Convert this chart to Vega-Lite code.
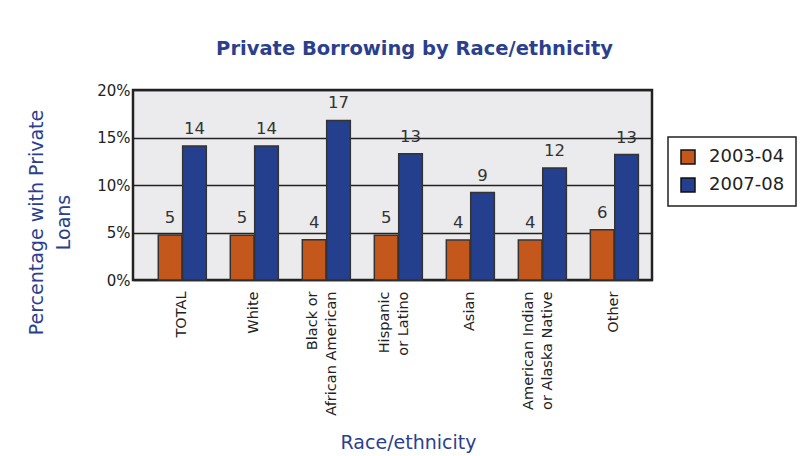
{
  "$schema": "https://vega.github.io/schema/vega-lite/v6.json",
  "width": 519,
  "height": 190,
  "autosize": "none",
  "padding": {"left": 133, "top": 90, "right": 149, "bottom": 176},
  "background": "white",
  "config": {
    "view": {"fill": "#ebebed", "stroke": "#222222", "strokeWidth": 2.5},
    "font": "DejaVu Sans",
    "legend": {"strokeWidth": 1.5}
  },
  "title": {
    "text": "Private Borrowing by Race/ethnicity",
    "font": "DejaVu Sans",
    "fontSize": 19.5,
    "fontWeight": "bold",
    "color": "#2b3f8e",
    "anchor": "middle",
    "frame": "group",
    "dx": 22,
    "offset": 9,
    "baseline": "alphabetic"
  },
  "data": {
    "values": [
      {"race": "TOTAL", "year": "2003-04", "value": 4.75, "label": "5"},
      {"race": "TOTAL", "year": "2007-08", "value": 14.1, "label": "14"},
      {"race": "White", "year": "2003-04", "value": 4.7, "label": "5"},
      {"race": "White", "year": "2007-08", "value": 14.1, "label": "14"},
      {"race": "Black or African American", "year": "2003-04", "value": 4.25, "label": "4"},
      {"race": "Black or African American", "year": "2007-08", "value": 16.8, "label": "17"},
      {"race": "Hispanic or Latino", "year": "2003-04", "value": 4.7, "label": "5"},
      {"race": "Hispanic or Latino", "year": "2007-08", "value": 13.3, "label": "13"},
      {"race": "Asian", "year": "2003-04", "value": 4.2, "label": "4"},
      {"race": "Asian", "year": "2007-08", "value": 9.2, "label": "9"},
      {"race": "American Indian or Alaska Native", "year": "2003-04", "value": 4.2, "label": "4"},
      {"race": "American Indian or Alaska Native", "year": "2007-08", "value": 11.8, "label": "12"},
      {"race": "Other", "year": "2003-04", "value": 5.3, "label": "6"},
      {"race": "Other", "year": "2007-08", "value": 13.2, "label": "13"}
    ]
  },
  "encoding": {
    "x": {
      "field": "race",
      "type": "nominal",
      "sort": ["TOTAL", "White", "Black or African American", "Hispanic or Latino", "Asian", "American Indian or Alaska Native", "Other"],
      "scale": {"paddingInner": 0.333, "paddingOuter": 0.27, "align": 0.65},
      "axis": {
        "title": "Race/ethnicity",
        "titleFont": "DejaVu Sans",
        "titleFontSize": 19,
        "titleFontWeight": "normal",
        "titleColor": "#2b3f8e",
        "titleX": 275,
        "titleY": 168,
        "titleAlign": "center",
        "titleBaseline": "alphabetic",
        "labelAngle": -90,
        "labelAlign": "right",
        "labelBaseline": "middle",
        "labelFontSize": 14.5,
        "labelColor": "#222222",
        "labelPadding": 11,
        "labelLineHeight": 19,
        "labelOffset": {"condition": {"test": "test(/ or /, datum.value)", "value": -13}, "value": 0},
        "labelExpr": "datum.label == 'Black or African American' ? ['Black or', 'African American'] : datum.label == 'Hispanic or Latino' ? ['Hispanic', 'or Latino'] : datum.label == 'American Indian or Alaska Native' ? ['American Indian', 'or  Alaska Native'] : datum.label",
        "ticks": false,
        "domain": false
      }
    },
    "xOffset": {"field": "year", "type": "nominal", "scale": {"paddingInner": 0.03}}
  },
  "layer": [
    {
      "mark": {"type": "bar", "stroke": "#333333", "strokeWidth": 1.5},
      "encoding": {
        "y": {
          "field": "value",
          "type": "quantitative",
          "scale": {"domain": [0, 20]},
          "axis": {
            "title": ["Percentage with Private", "Loans"],
            "titleFont": "DejaVu Sans",
            "titleFontSize": 19,
            "titleFontWeight": "normal",
            "titleColor": "#2b3f8e",
            "titleAngle": -90,
            "titleX": -97,
            "titleY": 132,
            "titleAlign": "center",
            "titleBaseline": "middle",
            "titleLineHeight": 27,
            "values": [0, 5, 10, 15, 20],
            "labelExpr": "datum.value + '%'",
            "labelFontSize": 15,
            "labelColor": "#222222",
            "labelPadding": 3,
            "ticks": false,
            "domain": false,
            "grid": true,
            "gridColor": "#222222",
            "gridWidth": 1.3
          }
        },
        "color": {
          "field": "year",
          "type": "nominal",
          "scale": {"domain": ["2003-04", "2007-08"], "range": ["#c4571b", "#243f8e"]},
          "legend": {
            "title": null,
            "orient": "none",
            "legendX": 535,
            "legendY": 47,
            "padding": 11,
            "strokeColor": "#222222",
            "fillColor": "white",
            "symbolType": "square",
            "symbolSize": 196,
            "symbolStrokeColor": "#111111",
            "symbolStrokeWidth": 1.5,
            "labelFont": "DejaVu Sans",
            "labelFontSize": 18,
            "labelColor": "#222222",
            "labelOffset": 12,
            "rowPadding": 8
          }
        }
      }
    },
    {
      "mark": {"type": "text", "dy": -17, "baseline": "middle", "fontSize": 16.5, "font": "DejaVu Sans", "color": "#333333"},
      "encoding": {
        "y": {"field": "value", "type": "quantitative"},
        "text": {"field": "label"}
      }
    }
  ]
}
